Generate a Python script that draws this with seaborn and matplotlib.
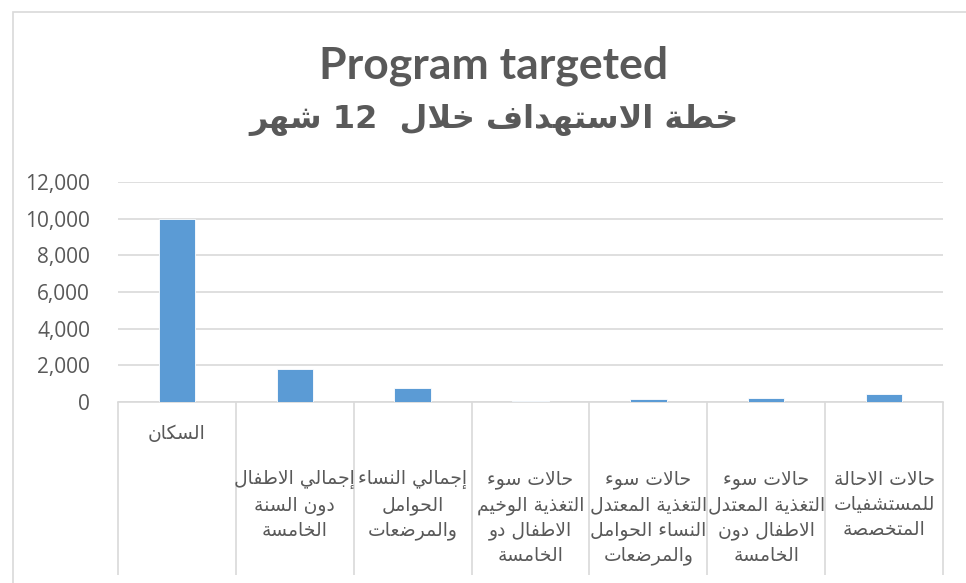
import re
import pandas
import matplotlib
matplotlib.use("Agg")
import matplotlib.pyplot as plt
import matplotlib.transforms as mtransforms
from matplotlib.patches import Rectangle
import seaborn as sns

# chart data, left to right
categories = [
    "السكان",
    "إجمالي الاطفال\nدون السنة\nالخامسة",
    "إجمالي النساء\nالحوامل\nوالمرضعات",
    "حالات سوء\nالتغذية الوخيم\nالاطفال دو\nالخامسة",
    "حالات سوء\nالتغذية المعتدل\nالنساء الحوامل\nوالمرضعات",
    "حالات سوء\nالتغذية المعتدل\nالاطفال دون\nالخامسة",
    "حالات الاحالة\nللمستشفيات\nالمتخصصة",
]
values = [10000, 1800, 780, 80, 190, 230, 410]
yticks = [0, 2000, 4000, 6000, 8000, 10000, 12000]
title_en = "Program targeted"
title_ar = "خطة الاستهداف خلال  12 شهر"

BAR_COLOR = "#5B9BD5"
TEXT_COLOR = "#595959"
LINE_COLOR = "#D9D9D9"

# matplotlib has no arabic shaping, so pick the presentation forms by hand
ARABIC_FORMS = {
    'ء': (0xFE80, 1), 'آ': (0xFE81, 2), 'أ': (0xFE83, 2), 'ؤ': (0xFE85, 2),
    'إ': (0xFE87, 2), 'ئ': (0xFE89, 4), 'ا': (0xFE8D, 2), 'ب': (0xFE8F, 4),
    'ة': (0xFE93, 2), 'ت': (0xFE95, 4), 'ث': (0xFE99, 4), 'ج': (0xFE9D, 4),
    'ح': (0xFEA1, 4), 'خ': (0xFEA5, 4), 'د': (0xFEA9, 2), 'ذ': (0xFEAB, 2),
    'ر': (0xFEAD, 2), 'ز': (0xFEAF, 2), 'س': (0xFEB1, 4), 'ش': (0xFEB5, 4),
    'ص': (0xFEB9, 4), 'ض': (0xFEBD, 4), 'ط': (0xFEC1, 4), 'ظ': (0xFEC5, 4),
    'ع': (0xFEC9, 4), 'غ': (0xFECD, 4), 'ف': (0xFED1, 4), 'ق': (0xFED5, 4),
    'ك': (0xFED9, 4), 'ل': (0xFEDD, 4), 'م': (0xFEE1, 4), 'ن': (0xFEE5, 4),
    'ه': (0xFEE9, 4), 'و': (0xFEED, 2), 'ى': (0xFEEF, 2), 'ي': (0xFEF1, 4),
}
LAM_ALEF = {'آ': 0xFEF5, 'أ': 0xFEF7, 'إ': 0xFEF9, 'ا': 0xFEFB}


def shape_line(line):
    out = []
    i = 0
    n = len(line)
    while i < n:
        ch = line[i]
        if ch not in ARABIC_FORMS:
            out.append(ch)
            i += 1
            continue
        prev = line[i - 1] if i > 0 else ''
        joins_prev = prev in ARABIC_FORMS and ARABIC_FORMS[prev][1] == 4
        if ch == 'ل' and i + 1 < n and line[i + 1] in LAM_ALEF:
            out.append(chr(LAM_ALEF[line[i + 1]] + (1 if joins_prev else 0)))
            i += 2
            continue
        base, count = ARABIC_FORMS[ch]
        nxt = line[i + 1] if i + 1 < n else ''
        joins_next = count == 4 and nxt in ARABIC_FORMS and ARABIC_FORMS[nxt][1] > 1
        if count == 1:
            form = 0
        elif joins_prev and joins_next:
            form = 3
        elif joins_prev:
            form = 1
        elif joins_next:
            form = 2
        else:
            form = 0
        out.append(chr(base + form))
        i += 1
    visual = ''.join(out)[::-1]
    # numbers and latin stay left to right
    return re.sub(r'[0-9A-Za-z,.]+', lambda m: m.group(0)[::-1], visual)


def shape(text):
    return '\n'.join(shape_line(l) for l in text.split('\n'))


def plot():
    sns.set_theme(style="white")
    plt.rcParams['font.family'] = ['Open Sans', 'DejaVu Sans']

    fig = plt.figure(figsize=(9.66, 5.83), dpi=100)
    ax = fig.add_axes([118 / 966, 1 - 402 / 583, (943 - 118) / 966, 220 / 583])

    df = pandas.DataFrame({'category': [shape(c) for c in categories], 'value': values})
    sns.barplot(data=df, x='category', y='value', color=BAR_COLOR, saturation=1,
                width=0.31, edgecolor='white', linewidth=0.6, ax=ax, zorder=3)

    ax.set_xlim(-0.5, len(categories) - 0.5)
    ax.set_ylim(0, 12000)
    ax.set_yticks(yticks)
    ax.set_yticklabels([f"{v:,}" for v in yticks], fontsize=15, color=TEXT_COLOR)
    ax.tick_params(axis='y', length=0, pad=20)
    ax.set_xticks([])
    ax.set_xlabel('')
    ax.set_ylabel('')
    ax.yaxis.grid(True, color=LINE_COLOR, linewidth=1.2, zorder=0)
    for side in ['left', 'right', 'top']:
        ax.spines[side].set_visible(False)
    ax.spines['bottom'].set_color(LINE_COLOR)
    ax.spines['bottom'].set_linewidth(1.2)

    # category separators running down through the label area
    trans = mtransforms.blended_transform_factory(ax.transData, ax.transAxes)
    bounds = [i - 0.5 for i in range(len(categories) + 1)]
    ax.vlines(bounds, -173 / 220, 0, transform=trans, colors=LINE_COLOR,
              linewidth=1.2, clip_on=False)

    for i, label in enumerate(df['category']):
        y = -22 / 220 if i == 0 else -68 / 220
        ax.text(i, y, label, transform=trans, ha='center', va='top',
                multialignment='center', fontsize=13.5, color=TEXT_COLOR,
                family='DejaVu Sans', linespacing=1.4)

    fig.text(494 / 966, 1 - 78 / 583, title_en, ha='center', va='baseline',
             fontsize=32, fontweight='bold', color=TEXT_COLOR, family='Lato')
    fig.text(494 / 966, 1 - 128 / 583, shape(title_ar), ha='center', va='baseline',
             fontsize=23, fontweight='bold', color=TEXT_COLOR,
             family=['DejaVu Sans'])

    fig.patches.append(Rectangle((13 / 966, -0.1), 1.2, 1.1 - 12 / 583 + 0.0001,
                                 transform=fig.transFigure, fill=False,
                                 edgecolor=LINE_COLOR, linewidth=1.2))

    fig.savefig('out.png', dpi=100)


if __name__ == "__main__":
    plot()
